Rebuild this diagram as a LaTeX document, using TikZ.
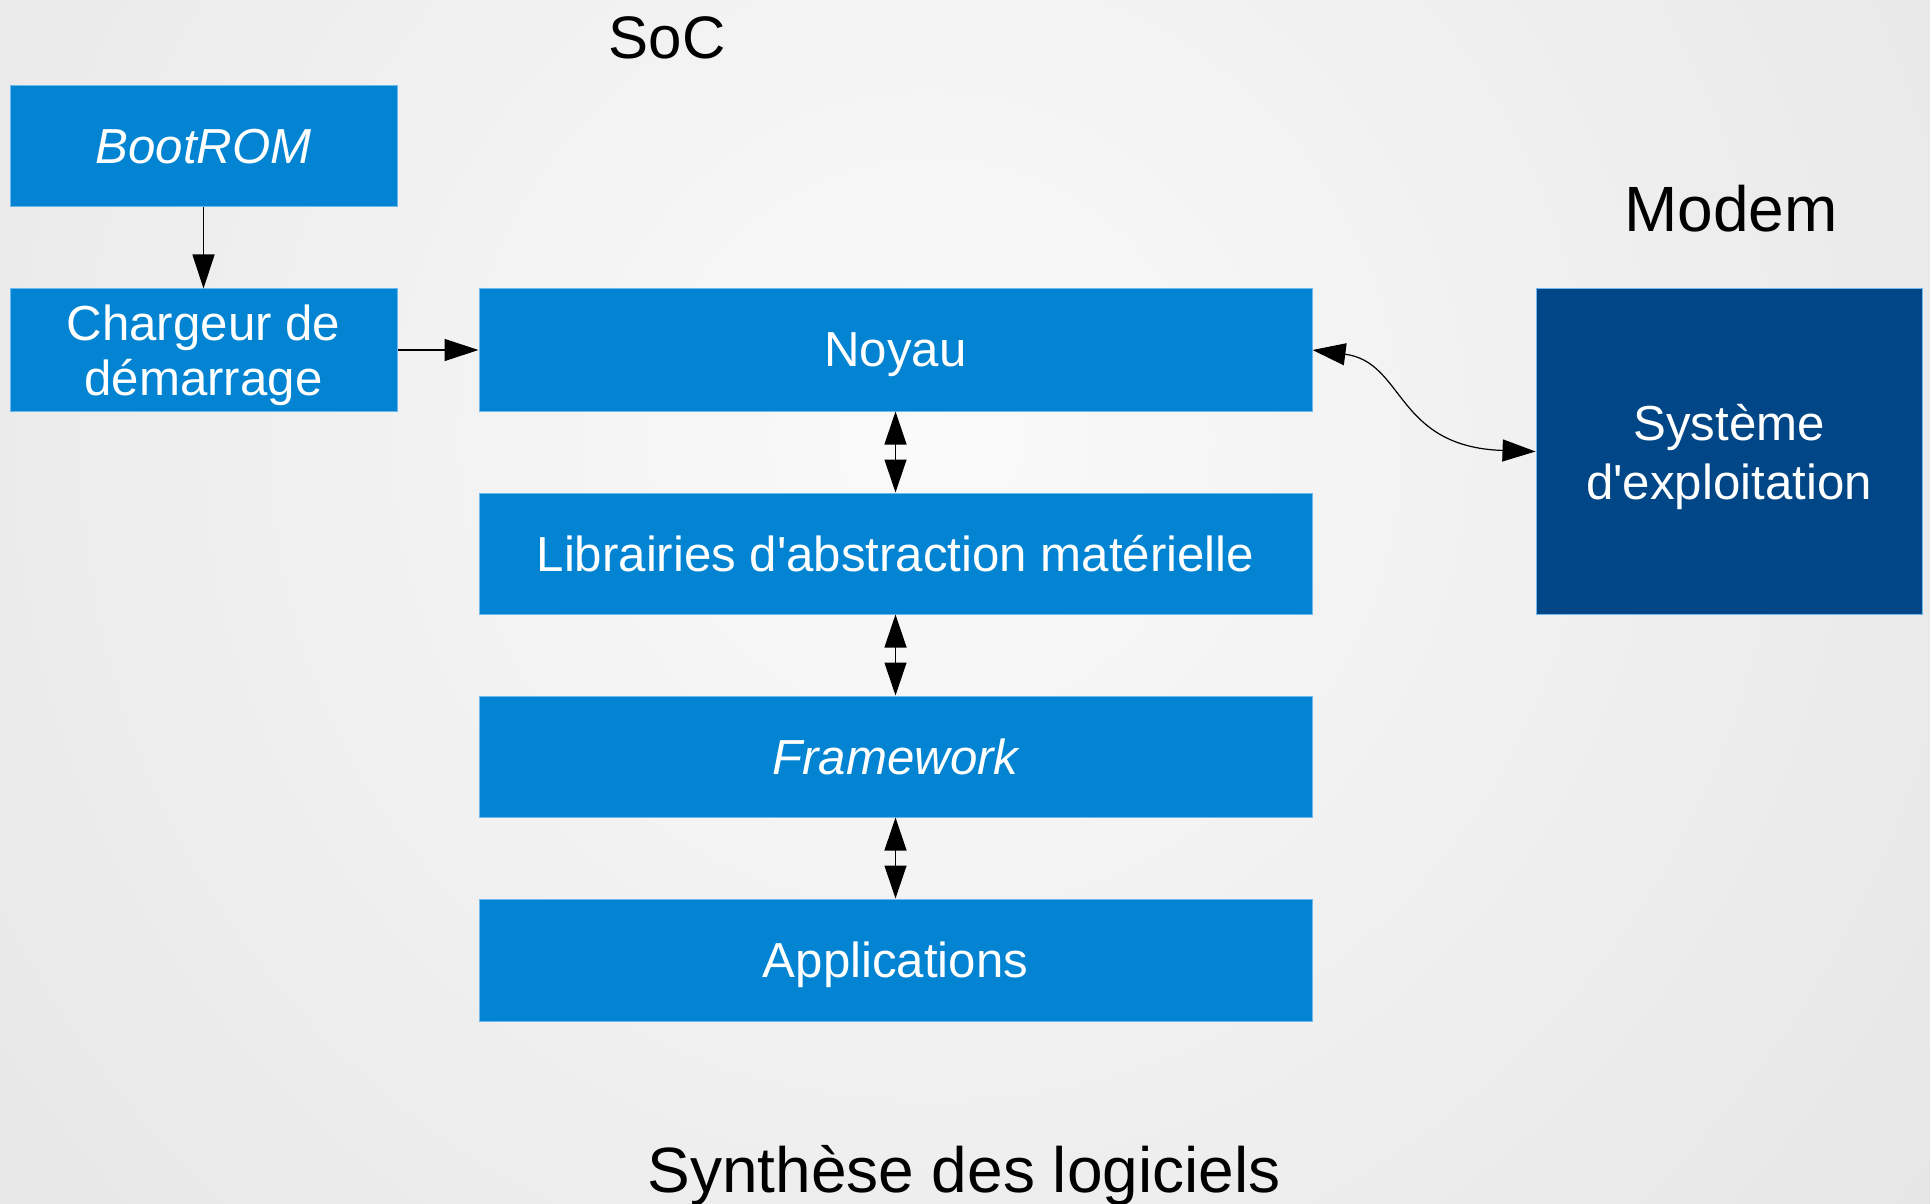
\documentclass[tikz,border=0pt]{standalone}
\usepackage{fontspec}
\setmainfont{Liberation Sans}
\usetikzlibrary{arrows.meta}
\definecolor{boxblue}{HTML}{0284D2}
\definecolor{boxedge}{HTML}{6DB8EC}
\definecolor{darkbox}{HTML}{014686}
\definecolor{bgin}{HTML}{FAFAFA}
\definecolor{bgout}{HTML}{D4D4D4}
\tikzset{
  blk/.style={fill=boxblue, draw=boxedge, line width=0.5pt, inner sep=0pt,
    text=white, font=\fontsize{24.6pt}{27.5pt}\selectfont, align=center, text depth=0pt},
  darkblk/.style={blk, fill=darkbox, font=\fontsize{24.6pt}{29.5pt}\selectfont},
  title/.style={anchor=base, inner sep=0pt, text=black},
  conn/.style={line width=0.6pt, -{Triangle[length=17pt,width=11pt]}},
  dconn/.style={line width=0.6pt, {Triangle[length=16.5pt,width=11pt]}-{Triangle[length=16.5pt,width=11pt]}}
}
\begin{document}
\begin{tikzpicture}[x=0.5pt,y=-0.5pt]
\useasboundingbox (0,0) rectangle (1930,1203);
\begin{scope}
  \clip (0,0) rectangle (1930,1203);
  \shade[inner color=bgin, outer color=bgout] (930,440) circle (2400);
\end{scope}

\node[title, font=\fontsize{30pt}{30pt}\selectfont] (soc) at (667,59) {SoC};
\node[title, font=\fontsize{32pt}{32pt}\selectfont] (modem) at (1731,232) {Modem};
\node[title, font=\fontsize{32pt}{32pt}\selectfont] (synth) at (964,1192) {Synthèse des logiciels};

\node[blk, minimum width=193.5pt, minimum height=60.5pt] (boot) at (203.5,146.5) {\itshape BootROM};
\node[blk, minimum width=193.5pt, minimum height=61pt] (charg) at (203.5,350) {Chargeur de\\démarrage};
\node[blk, minimum width=416.5pt, minimum height=61pt] (noyau) at (895.5,350) {Noyau};
\node[blk, minimum width=416.5pt, minimum height=60.5pt] (lib) at (895.5,553.5) {Librairies d\textquotesingle abstraction matérielle};
\node[blk, minimum width=416.5pt, minimum height=60.5pt] (frame) at (895.5,756.5) {\itshape Framework};
\node[blk, minimum width=416.5pt, minimum height=61pt] (apps) at (895.5,960) {Applications};
\node[darkblk, minimum width=193pt, minimum height=162.5pt] (sys) at (1729,451.5) {Système\\d\textquotesingle exploitation};

\draw[conn] (boot.south) -- (charg.north);
\draw[conn] (charg.east) -- (noyau.west);
\draw[dconn] (noyau.south) -- (lib.north);
\draw[dconn] (lib.south) -- (frame.north);
\draw[dconn] (frame.south) -- (apps.north);
\draw[dconn] (noyau.east) .. controls (1405,362) and (1395,447) .. (sys.west);
\end{tikzpicture}
\end{document}
